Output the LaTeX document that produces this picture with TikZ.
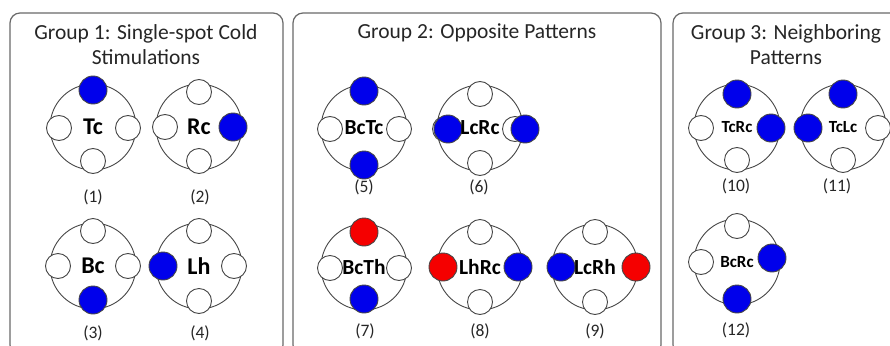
\documentclass[tikz,border=0pt]{standalone}
\usepackage{fontspec}
\setmainfont{Carlito}
\definecolor{coldblue}{RGB}{0,0,235}
\definecolor{hotred}{RGB}{245,0,0}
\definecolor{ringgray}{RGB}{70,70,70}
\definecolor{panelgray}{RGB}{105,105,105}
\tikzset{
    panel/.style = {draw = panelgray, line width = 1.2pt, rounded corners = 10pt},
    title/.style = {align = center, font = \fontsize{21.5}{25}\selectfont, text = black!85},
    ring/.style = {circle, draw = ringgray, line width = 0.9pt, minimum size = 86pt, inner sep = 0pt},
    pad/.style = {circle, draw = ringgray, fill = white, line width = 0.9pt, minimum size = 25pt, inner sep = 0pt},
    cold/.style = {pad, fill = coldblue, minimum size = 28pt},
    hot/.style = {pad, fill = hotred, minimum size = 28pt},
    tag/.style = {font = \bfseries\fontsize{24}{24}\selectfont},
    midtag/.style = {font = \bfseries\fontsize{21.5}{21.5}\selectfont},
    smalltag/.style = {font = \bfseries\fontsize{17}{17}\selectfont},
    num/.style = {font = \fontsize{17.5}{17.5}\selectfont, text = black!85}
}
\begin{document}
\begin{tikzpicture}[x = 1pt, y = -1pt]
        \useasboundingbox (0, 0) rectangle (890, 345);
        \clip (0, 0) rectangle (890, 345);
        \fill[white] (0, 0) rectangle (890, 345);
        % panels
        \draw[panel] (10, 13) rectangle (283, 355);
        \draw[panel] (293, 13) rectangle (661, 355);
        \draw[panel] (673, 13) rectangle (905, 355);
        \node[title] (g1) at (146, 45) {Group 1: Single-spot Cold\\Stimulations};
        \node[title] (g2) at (477, 33) {Group 2: Opposite Patterns};
        \node[title] (g3) at (786, 45) {Group 3: Neighboring\\Patterns};
        % group 1
        \node[ring] (tc) at (93, 127) {};
        \node[cold] (tcT) at (93, 90) {};
        \node[pad] (tcL) at (59, 128) {};
        \node[pad] (tcR) at (128, 128) {};
        \node[pad] (tcB) at (93, 161) {};
        \node[tag] at (tc) {Tc};
        \node[num] (n1) at (93, 197) {(1)};
        \node[ring] (rc) at (199, 127) {};
        \node[pad] (rcT) at (199, 92) {};
        \node[pad] (rcL) at (165, 127) {};
        \node[cold] (rcR) at (233, 127) {};
        \node[pad] (rcB) at (199, 161) {};
        \node[tag] at (rc) {Rc};
        \node[num] (n2) at (200, 197) {(2)};
        \node[ring] (bc) at (93, 266) {};
        \node[pad] (bcT) at (93, 231) {};
        \node[pad] (bcL) at (58, 266) {};
        \node[pad] (bcR) at (128, 266) {};
        \node[cold] (bcB) at (93, 300) {};
        \node[tag] at (bc) {Bc};
        \node[num] (n3) at (93, 333) {(3)};
        \node[ring] (lh) at (199, 266) {};
        \node[pad] (lhT) at (199, 231) {};
        \node[cold] (lhL) at (163, 266) {};
        \node[pad] (lhR) at (234, 266) {};
        \node[pad] (lhB) at (199, 301) {};
        \node[tag] at (lh) {Lh};
        \node[num] (n4) at (200, 333) {(4)};
        % group 2
        \node[ring] (bctc) at (364, 128) {};
        \node[cold] (bctcT) at (364, 91) {};
        \node[pad] (bctcL) at (330, 129) {};
        \node[pad] (bctcR) at (399, 129) {};
        \node[cold] (bctcB) at (364, 165) {};
        \node[midtag] at (bctc) {BcTc};
        \node[num] (n5) at (364, 187) {(5)};
        \node[ring] (lcrc) at (480, 128) {};
        \node[pad] (lcrcT) at (480, 94) {};
        \node[pad] (lcrcL) at (445, 129) {};
        \node[pad] (lcrcR) at (515, 129) {};
        \node[pad] (lcrcB) at (480, 163) {};
        \node[cold] (lcrcL2) at (448, 129) {};
        \node[cold] (lcrcR2) at (525, 129) {};
        \node[midtag] at (lcrc) {LcRc};
        \node[num] (n6) at (479, 187) {(6)};
        \node[ring] (bcth) at (364, 267) {};
        \node[hot] (bcthT) at (364, 232) {};
        \node[pad] (bcthL) at (330, 268) {};
        \node[pad] (bcthR) at (399, 268) {};
        \node[cold] (bcthB) at (364, 299) {};
        \node[midtag] at (bcth) {BcTh};
        \node[num] (n7) at (365, 331) {(7)};
        \node[ring] (lhrc) at (480, 267) {};
        \node[pad] (lhrcT) at (480, 232) {};
        \node[hot] (lhrcL) at (443, 267) {};
        \node[cold] (lhrcR) at (518, 267) {};
        \node[pad] (lhrcB) at (480, 302) {};
        \node[midtag] at (lhrc) {LhRc};
        \node[num] (n8) at (480, 331) {(8)};
        \node[ring] (lcrh) at (595, 267) {};
        \node[pad] (lcrhT) at (595, 232) {};
        \node[cold] (lcrhL) at (561, 267) {};
        \node[hot] (lcrhR) at (636, 267) {};
        \node[pad] (lcrhB) at (595, 302) {};
        \node[midtag] at (lcrh) {LcRh};
        \node[num] (n9) at (595, 331) {(9)};
        % group 3
        \node[ring] (tcrc) at (737, 127) {};
        \node[cold] (tcrcT) at (737, 94) {};
        \node[pad] (tcrcL) at (701, 128) {};
        \node[cold] (tcrcR) at (771, 128) {};
        \node[pad] (tcrcB) at (737, 160) {};
        \node[smalltag] at (tcrc) {TcRc};
        \node[num] (n10) at (736, 186) {(10)};
        \node[ring] (tclc) at (843, 127) {};
        \node[cold] (tclcT) at (843, 94) {};
        \node[cold] (tclcL) at (808, 128) {};
        \node[pad] (tclcR) at (878, 128) {};
        \node[pad] (tclcB) at (843, 160) {};
        \node[smalltag] at (tclc) {TcLc};
        \node[num] (n11) at (837, 186) {(11)};
        \node[ring] (bcrc) at (737, 262) {};
        \node[pad] (bcrcT) at (737, 226) {};
        \node[pad] (bcrcL) at (701, 262) {};
        \node[cold] (bcrcR) at (772, 258) {};
        \node[cold] (bcrcB) at (737, 299) {};
        \node[smalltag] at (bcrc) {BcRc};
        \node[num] (n12) at (736, 330) {(12)};
    \end{tikzpicture}
\end{document}
